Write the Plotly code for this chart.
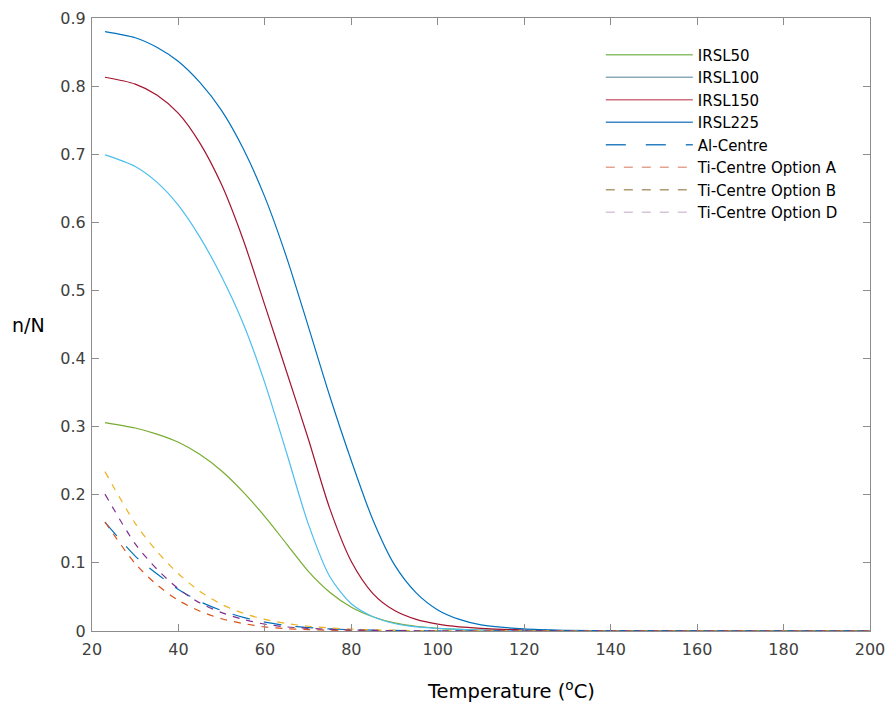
import plotly.graph_objects as go

# Temperature grid (°C)
T = [23, 30, 35, 40, 45, 50, 55, 60, 65, 70, 75, 80, 85, 90, 95, 100,
     105, 110, 120, 130, 140, 160, 200]

irsl50 = [0.306, 0.298, 0.289, 0.277, 0.259, 0.235, 0.204, 0.168, 0.128,
          0.088, 0.057, 0.035, 0.021, 0.012, 0.007, 0.004, 0.0025, 0.0015, 0.0005,
          0.0002, 0.0001, 0.0, 0.0]
irsl100 = [0.699, 0.682, 0.659, 0.625, 0.578, 0.520, 0.451, 0.364, 0.262,
           0.158, 0.080, 0.040, 0.021, 0.011, 0.006, 0.004, 0.0025, 0.0015, 0.0005,
           0.0002, 0.0001, 0.0, 0.0]
irsl150 = [0.813, 0.803, 0.787, 0.760, 0.716, 0.655, 0.574, 0.478, 0.381,
           0.283, 0.180, 0.102, 0.055, 0.030, 0.017, 0.010, 0.006, 0.004, 0.0015,
           0.0006, 0.0002, 0.0, 0.0]
irsl225 = [0.880, 0.871, 0.857, 0.836, 0.805, 0.764, 0.708, 0.637, 0.549,
           0.448, 0.345, 0.250, 0.163, 0.097, 0.056, 0.031, 0.017, 0.009, 0.003,
           0.001, 0.0003, 0.0, 0.0]
al_centre = [0.160, 0.110, 0.084, 0.061, 0.043, 0.030, 0.020, 0.013, 0.008,
             0.005, 0.003, 0.002, 0.0012, 0.0008, 0.0005, 0.0003, 0.0002, 0.0001, 0.0,
             0.0, 0.0, 0.0, 0.0]
ti_a = [0.160, 0.099, 0.068, 0.045, 0.029, 0.018, 0.011, 0.006, 0.0035,
        0.002, 0.0012, 0.0007, 0.0004, 0.0002, 0.0001, 0.0, 0.0, 0.0, 0.0,
        0.0, 0.0, 0.0, 0.0]
ti_b = [0.234, 0.158, 0.117, 0.084, 0.058, 0.039, 0.026, 0.017, 0.011,
        0.007, 0.0045, 0.0028, 0.0017, 0.001, 0.0006, 0.0004, 0.0003, 0.0002, 0.0001,
        0.0, 0.0, 0.0, 0.0]
ti_d = [0.201, 0.128, 0.091, 0.062, 0.041, 0.027, 0.017, 0.010, 0.006,
        0.004, 0.0025, 0.0015, 0.001, 0.0006, 0.0004, 0.0002, 0.0001, 0.0, 0.0,
        0.0, 0.0, 0.0, 0.0]

names = ["IRSL50", "IRSL100", "IRSL150", "IRSL225", "Al-Centre",
         "Ti-Centre Option A", "Ti-Centre Option B", "Ti-Centre Option D"]
series = [irsl50, irsl100, irsl150, irsl225, al_centre, ti_a, ti_b, ti_d]
line_colors = ["#77AC30", "#4DBEEE", "#A2142F", "#0072BD", "#0072BD",
               "#D95319", "#EDB120", "#7E2F8E"]
legend_colors = ["#8cc06a", "#8aa9bb", "#d0707c", "#3f88c5", "#2a7fc0",
                 "#e3a391", "#b09a70", "#d8c4d8"]
dashes = ["solid", "solid", "solid", "solid", "18px,14px",
          "7px,7px", "7px,7px", "7px,7px"]
legend_dashes = ["solid", "solid", "solid", "solid", "20px,20px",
                 "9px,9px", "9px,9px", "9px,9px"]

FONT = "DejaVu Sans, Liberation Sans, Arial, sans-serif"

fig = go.Figure()
for name, ys, col, dsh in zip(names, series, line_colors, dashes):
    fig.add_trace(go.Scatter(x=T, y=ys, mode="lines", name=name,
                             line=dict(color=col, width=1.2, dash=dsh,
                                       shape="spline", smoothing=0.8),
                             showlegend=False, hoverinfo="x+y+name"))
for name, col, dsh in zip(names, legend_colors, legend_dashes):
    fig.add_trace(go.Scatter(x=[None], y=[None], mode="lines", name=name,
                             line=dict(color=col, width=1.4, dash=dsh)))

axis_common = dict(showline=True, linecolor="#8c8c8c", linewidth=1, mirror="ticks",
                   ticks="inside", ticklen=7, tickcolor="#8c8c8c", tickwidth=1,
                   showgrid=False, zeroline=False, automargin=False,
                   tickfont=dict(family=FONT, size=16, color="#404040"))

fig.update_layout(
    width=887, height=704,
    margin=dict(l=92, r=17, t=18, b=73, autoexpand=False),
    paper_bgcolor="white", plot_bgcolor="white",
    font=dict(family=FONT),
    xaxis=dict(range=[20, 200], tickmode="array", ticklabelstandoff=4,
               tickvals=[20, 40, 60, 80, 100, 120, 140, 160, 180, 200], **axis_common),
    yaxis=dict(range=[0, 0.9], tickmode="array", ticklabelstandoff=2,
               tickvals=[0, 0.1, 0.2, 0.3, 0.4, 0.5, 0.6, 0.7, 0.8, 0.9],
               ticktext=["0", "0.1", "0.2", "0.3", "0.4", "0.5", "0.6", "0.7", "0.8", "0.9"],
               **axis_common),
    legend=dict(x=0.654, y=0.9665, xanchor="left", yanchor="top",
                bgcolor="rgba(0,0,0,0)", borderwidth=0, itemwidth=87,
                font=dict(family=FONT, size=15, color="#000000"),
                tracegroupgap=0),
    annotations=[
        dict(text="Temperature (<sup>o</sup>C)", xref="paper", yref="paper",
             x=0.5386, y=-0.0963, xanchor="center", yanchor="middle", showarrow=False,
             font=dict(family=FONT, size=19.5, color="#000000")),
        dict(text="n/N", xref="paper", yref="paper", x=-0.1054, y=0.499,
             xanchor="left", yanchor="middle", showarrow=False,
             font=dict(family=FONT, size=19, color="#000000")),
    ],
)

fig.write_html("out.html", config={"displayModeBar": False},
               post_script="document.body.style.margin='0';")
